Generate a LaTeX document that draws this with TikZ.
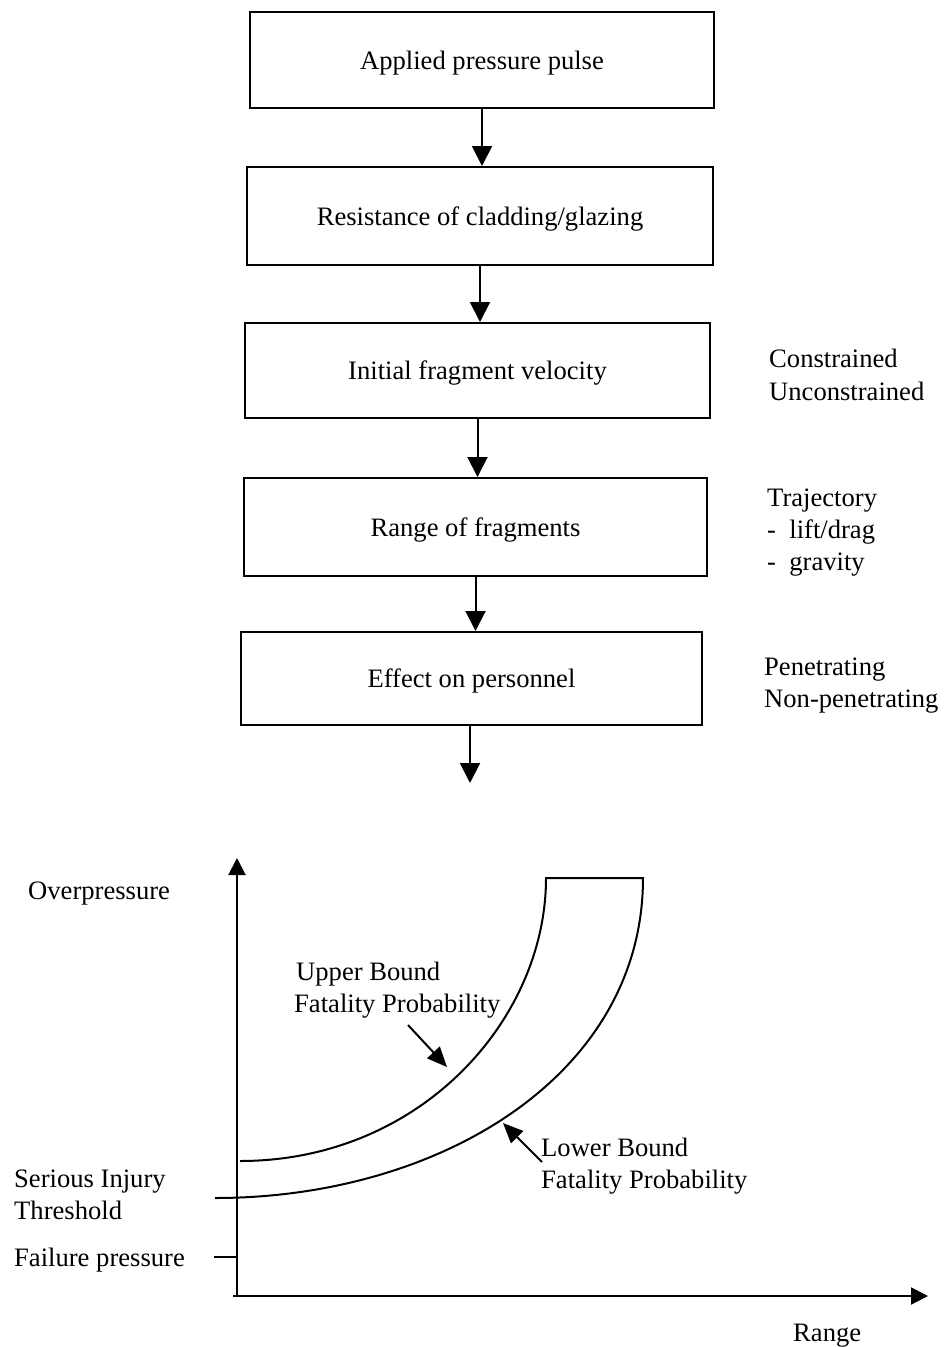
\documentclass[tikz,border=0pt]{standalone}
\usepackage{fontspec}
\setmainfont{Liberation Serif}
\usetikzlibrary{arrows.meta}
\begin{document}
\begin{tikzpicture}[x=1pt,y=-1pt,
  every node/.style={font=\fontsize{26.6}{32}\selectfont, inner sep=0pt},
  stepbox/.style={draw, line width=2pt, inner sep=0pt, text depth=0pt},
  flow/.style={line width=2pt, -{Triangle[length=20pt,width=20pt]}},
  axis/.style={line width=2pt, -{Triangle[length=17pt,width=17pt]}},
  pointer/.style={line width=2pt, -{Triangle[length=20pt,width=17pt]}},
  curve/.style={line width=2pt},
  lbl/.style={anchor=base west}]
\useasboundingbox (0,0) rectangle (943,1347);

% flow chart boxes
\node[stepbox, minimum width=464pt, minimum height=96pt] (b1) at (482,60) {Applied pressure pulse};
\node[stepbox, minimum width=466pt, minimum height=98pt] (b2) at (480,216) {Resistance of cladding/glazing};
\node[stepbox, minimum width=465pt, minimum height=95pt] (b3) at (477.5,370.5) {Initial fragment velocity};
\node[stepbox, minimum width=463pt, minimum height=98pt] (b4) at (475.5,527) {Range of fragments};
\node[stepbox, minimum width=461pt, minimum height=93pt] (b5) at (471.5,678.5) {Effect on personnel};
\coordinate (out) at (470,783);

\draw[flow] (b1.south) -- (b1.south |- b2.north);
\draw[flow] (b2.south) -- (b2.south |- b3.north);
\draw[flow] (b3.south) -- (b3.south |- b4.north);
\draw[flow] (b4.south) -- (b4.south |- b5.north);
\draw[flow] (b5.south -| out) -- (out);

% side notes
\node[lbl] (c1) at (769,367) {Constrained};
\node[lbl] (c2) at (769,400) {Unconstrained};
\node[lbl] (t1) at (767,506) {Trajectory};
\node[lbl] (t2) at (767,538) {-~~lift/drag};
\node[lbl] (t3) at (767,570) {-~~gravity};
\node[lbl] (p1) at (764,675) {Penetrating};
\node[lbl] (p2) at (764,707) {Non-penetrating};

% graph axes
\coordinate (O) at (237,1296);
\coordinate (ytop) at (237,858);
\coordinate (xend) at (928,1296);
\draw[axis] (O) -- (ytop);
\draw[axis] (233,1296) -- (xend);
\draw[line width=2pt] (214,1257) -- (237,1257);

% fatality probability band
\coordinate (u0) at (240,1161);
\coordinate (u1) at (546,878);
\coordinate (l1) at (643,878);
\coordinate (l0) at (215,1198);
\draw[curve] (u0) .. controls (420,1161) and (546,1020) .. (u1) -- (l1)
  .. controls (643,1075) and (440,1198) .. (l0);

% labels
\node[lbl] (ov) at (28,899) {Overpressure};
\node[lbl] (ub1) at (296,980) {Upper Bound};
\node[lbl] (ub2) at (294,1012) {Fatality Probability};
\node[lbl] (lb1) at (541,1156) {Lower Bound};
\node[lbl] (lb2) at (541,1188) {Fatality Probability};
\node[lbl] (si1) at (14,1187) {Serious Injury};
\node[lbl] (si2) at (14,1219) {Threshold};
\node[lbl] (fp) at (14,1266) {Failure pressure};
\node[lbl] (rg) at (793,1341) {Range};

\coordinate (ua) at (408,1025);
\coordinate (ut) at (447,1067);
\coordinate (la) at (542,1162);
\coordinate (lt) at (503,1123);
\draw[pointer] (ua) -- (ut);
\draw[pointer] (la) -- (lt);
\end{tikzpicture}
\end{document}
